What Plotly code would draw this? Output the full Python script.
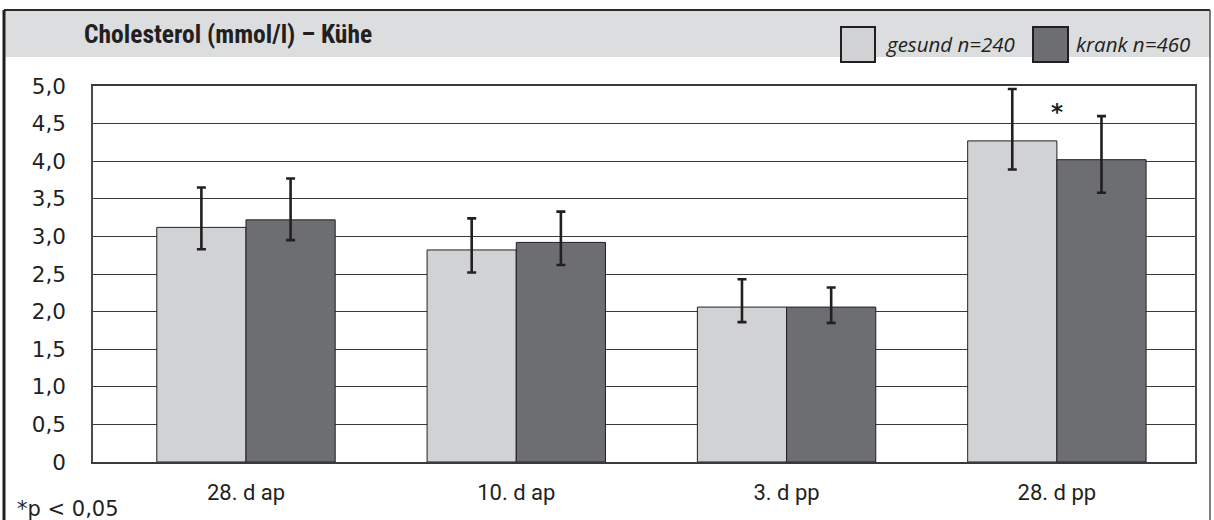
import plotly.graph_objects as go

# Sampling days and cholesterol values (mmol/l)
categories = ["28. d ap", "10. d ap", "3. d pp", "28. d pp"]
gesund_mean = [3.12, 2.82, 2.06, 4.27]
gesund_upper = [3.65, 3.24, 2.43, 4.96]
gesund_lower = [2.83, 2.52, 1.86, 3.89]
krank_mean = [3.22, 2.92, 2.06, 4.02]
krank_upper = [3.77, 3.33, 2.32, 4.60]
krank_lower = [2.95, 2.62, 1.85, 3.58]
y_tickvals = [0, 0.5, 1.0, 1.5, 2.0, 2.5, 3.0, 3.5, 4.0, 4.5, 5.0]
y_ticktext = ["0", "0,5", "1,0", "1,5", "2,0", "2,5", "3,0", "3,5", "4,0", "4,5", "5,0"]
legend_labels = ["gesund n=240", "krank n=460"]
signif_category = "28. d pp"
signif_y = 4.66

W, H = 1214, 520
L, R, T, B = 93, 19, 86, 58
PW, PH = W - L - R, H - T - B

C_GESUND = "#d1d2d4"
C_KRANK = "#6d6e71"
C_DARK = "#231f20"
FONT = "DejaVu Sans, sans-serif"
FONT_X = "Roboto, DejaVu Sans, sans-serif"
FONT_IT = "Open Sans, DejaVu Sans, sans-serif"
FONT_COND = "Roboto Condensed, DejaVu Sans Condensed, sans-serif"


def px(x):
    return (x - L) / PW


def py(y):
    return (H - B - y) / PH


def err(mean, upper, lower):
    plus = [u - m for u, m in zip(upper, mean)]
    minus = [m - l for m, l in zip(mean, lower)]
    return dict(type="data", symmetric=False, array=plus, arrayminus=minus,
                color=C_DARK, thickness=2.6, width=4.5)


fig = go.Figure()
fig.add_trace(go.Bar(x=categories, y=gesund_mean, name=legend_labels[0],
                     marker=dict(color=C_GESUND, line=dict(color=C_DARK, width=1)),
                     error_y=err(gesund_mean, gesund_upper, gesund_lower),
                     showlegend=False))
fig.add_trace(go.Bar(x=categories, y=krank_mean, name=legend_labels[1],
                     marker=dict(color=C_KRANK, line=dict(color=C_DARK, width=1)),
                     error_y=err(krank_mean, krank_upper, krank_lower),
                     showlegend=False))

shapes = [
    # grey header band
    dict(type="rect", xref="paper", yref="paper", x0=px(4), x1=px(1210), y0=py(57), y1=py(10),
         fillcolor="#dcddde", line=dict(width=0), layer="below"),
    # outer frame
    dict(type="line", xref="paper", yref="paper", x0=px(4), x1=px(1210), y0=py(10), y1=py(10),
         line=dict(color="#2b2b2b", width=2)),
    dict(type="line", xref="paper", yref="paper", x0=px(4), x1=px(4), y0=py(10), y1=py(521),
         line=dict(color="#231f20", width=3)),
    dict(type="line", xref="paper", yref="paper", x0=px(1210), x1=px(1210), y0=py(10), y1=py(521),
         line=dict(color="#555555", width=1.5)),
]

# legend swatches
swatches = [(841, 875, C_GESUND), (1033, 1068, C_KRANK)]
for x0, x1, col in swatches:
    shapes.append(dict(type="rect", xref="paper", yref="paper", x0=px(x0), x1=px(x1),
                       y0=py(62), y1=py(27), fillcolor=col,
                       line=dict(color=C_DARK, width=2)))

annotations = [
    dict(text="<b>Cholesterol (mmol/l) – Kühe</b>", xref="paper", yref="paper",
         x=px(82), y=py(34), xanchor="left", yanchor="middle", showarrow=False,
         font=dict(family=FONT_COND, size=25.5, color=C_DARK)),
    dict(text="<i>" + legend_labels[0] + "</i>", xref="paper", yref="paper",
         x=px(884), y=py(44), xanchor="left", yanchor="middle", showarrow=False,
         font=dict(family=FONT_IT, size=20.5, color=C_DARK)),
    dict(text="<i>" + legend_labels[1] + "</i>", xref="paper", yref="paper",
         x=px(1074), y=py(44), xanchor="left", yanchor="middle", showarrow=False,
         font=dict(family=FONT_IT, size=20.5, color=C_DARK)),
    dict(text="*p < 0,05", xref="paper", yref="paper",
         x=px(15), y=py(509), xanchor="left", yanchor="middle", showarrow=False,
         font=dict(family=FONT, size=21, color=C_DARK)),
    dict(text="<b>*</b>", x=signif_category, y=signif_y, xref="x", yref="y",
         xanchor="center", yanchor="middle", showarrow=False,
         font=dict(family=FONT, size=23, color=C_DARK)),
]

fig.update_layout(
    width=W, height=H,
    margin=dict(l=L, r=R, t=T, b=B, autoexpand=False),
    paper_bgcolor="white", plot_bgcolor="white",
    barmode="group", bargap=0.34, bargroupgap=0,
    font=dict(family=FONT, size=19, color=C_DARK),
    shapes=shapes, annotations=annotations,
    xaxis=dict(range=[-0.566, 3.511], showgrid=False, showline=True, mirror=True,
               linecolor="#3a3a3a", linewidth=1.5, ticks="",
               tickfont=dict(family=FONT_X, size=22), ticklabelstandoff=10, zeroline=False),
    yaxis=dict(range=[0, 5], tickvals=y_tickvals, ticktext=y_ticktext,
               showgrid=True, gridcolor="#3a3a3a", gridwidth=1.2,
               showline=True, mirror=True, linecolor="#4a4a4a", linewidth=1.5,
               ticks="", tickfont=dict(size=21.5), ticklabelstandoff=21, zeroline=False),
)

fig.write_html("out.html")
